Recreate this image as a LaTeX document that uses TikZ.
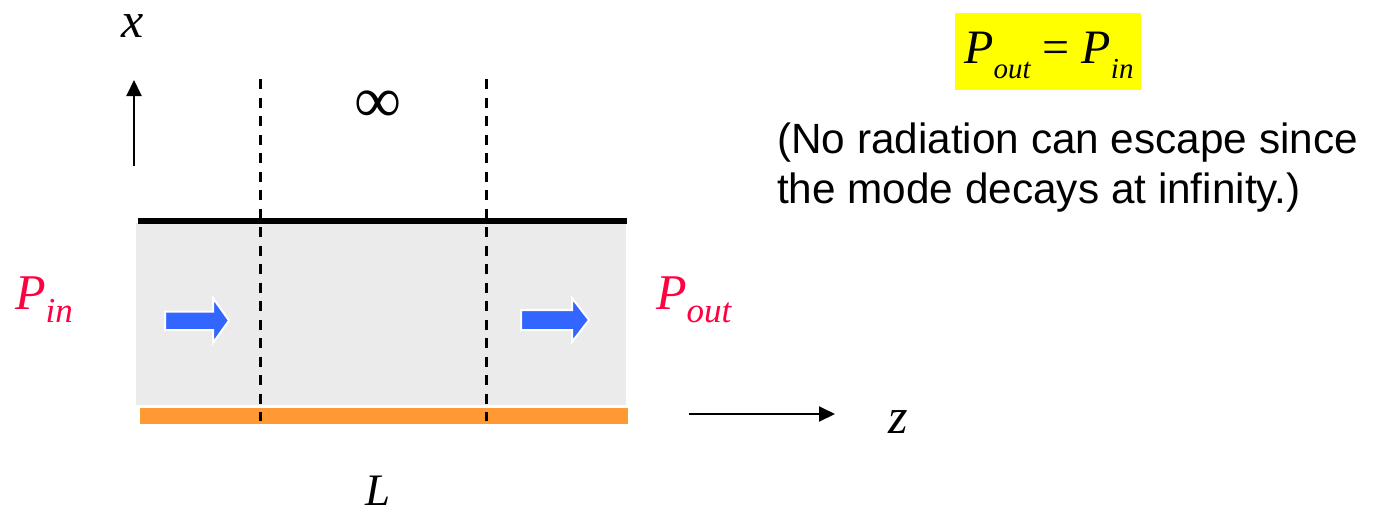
\documentclass[tikz,border=0pt]{standalone}
\usepackage{fontspec}
\setmainfont{Liberation Serif}
\newfontfamily\sansf{Liberation Sans}
\usetikzlibrary{arrows.meta}
\definecolor{redP}{HTML}{FF0040}
\definecolor{grayfill}{HTML}{EBEBEB}
\definecolor{orangebar}{HTML}{FF9933}
\definecolor{bluearr}{HTML}{3366FF}
\definecolor{yellowbox}{HTML}{FFFF00}
% symbol with subscript: #1 base, #2 subscript, #3 subscript size, #4 drop
\newcommand{\msym}[4]{{\itshape #1}\raisebox{-#4}{\fontsize{#3}{#3}\selectfont\itshape #2}}
\tikzset{
  mathlbl/.style={inner sep=0pt, font=\fontsize{50}{50}\selectfont\itshape},
  redlbl/.style={mathlbl, text=redP},
  dashline/.style={line width=3pt, dash pattern=on 10pt off 8.5pt},
  axisarrow/.style={line width=2pt, -{Triangle[length=16pt,width=15pt]}},
  bluearrow/.style={fill=bluearr, draw=white, line width=2pt, line join=miter},
  sanstext/.style={inner sep=0pt, anchor=base west, font=\sansf\fontsize{42.3}{44}\selectfont}
}
\begin{document}
\begin{tikzpicture}[x=1pt,y=-1pt]
\useasboundingbox (0,0) rectangle (1377,512);
% waveguide
\fill[grayfill] (136,223) rectangle (626,405);
\fill[orangebar] (140,408) rectangle (628,424);
\draw[line width=6pt] (138,221) -- (627,221);
% dashed boundaries
\coordinate (d1t) at (260,79); \coordinate (d1b) at (260,421);
\coordinate (d2t) at (486,79); \coordinate (d2b) at (486,421);
\draw[dashline] (d1t) -- (d1b);
\draw[dashline] (d2t) -- (d2b);
% blue arrows
\draw[bluearrow] (165,311.5) -- (213,311.5) -- (213,298) -- (229,320.5) -- (213,343) -- (213,330) -- (165,330) -- cycle;
\draw[bluearrow] (521,310) -- (572,310) -- (572,298) -- (589,320) -- (572,342) -- (572,330) -- (521,330) -- cycle;
% axes
\coordinate (xa0) at (134,166); \coordinate (xa1) at (134,80);
\draw[axisarrow] (xa0) -- (xa1);
\node[mathlbl, anchor=base] (xlbl) at (133,37) {x};
\coordinate (za0) at (689,414); \coordinate (za1) at (835,414);
\draw[axisarrow] (za0) -- (za1);
\node[mathlbl, anchor=base] (zlbl) at (898,433) {z};
% labels
\node[inner sep=0pt, font=\fontsize{66}{66}\selectfont] (inf) at (378,107) {∞};
\node[inner sep=0pt, anchor=base, font=\fontsize{45}{45}\selectfont\itshape] (Llbl) at (378,505) {L};
\node[redlbl, anchor=base west] (pin) at (15,309) {\msym{P}{in}{35}{13pt}};
\node[redlbl, anchor=base west] (pout) at (656,309) {\msym{P}{out}{35}{13pt}};
% equation box
\node[fill=yellowbox, minimum width=186pt, minimum height=77pt, inner sep=0pt] (eqbox) at (1048,51.5) {};
\node[mathlbl, font=\fontsize{48}{48}\selectfont\itshape, anchor=base west] (eq) at (964,63) {\msym{P}{out}{29}{15pt}\hspace{12pt}{\upshape=}\hspace{12pt}\msym{P}{in}{29}{15pt}};
% explanation
\node[sanstext] (note1) at (777,153) {(No radiation can escape since};
\node[sanstext] (note2) at (777,203) {the mode decays at infinity.)};
\end{tikzpicture}
\end{document}
